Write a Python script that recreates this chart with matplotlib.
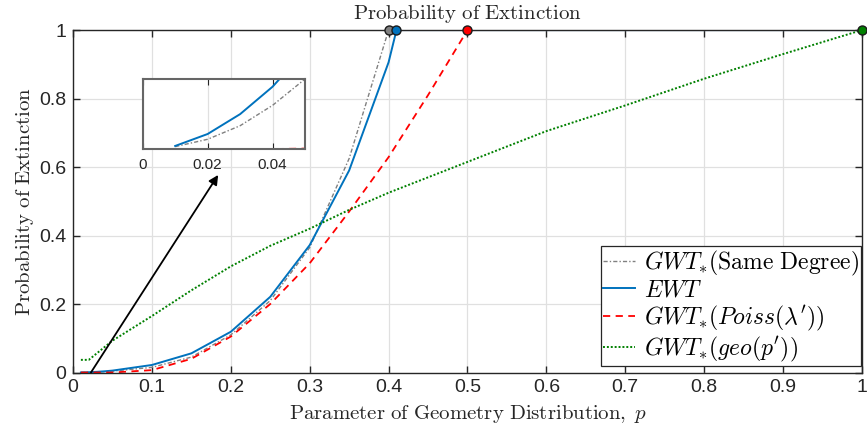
import matplotlib
matplotlib.use("Agg")
import matplotlib.pyplot as plt

plt.rcParams["mathtext.fontset"] = "cm"
plt.rcParams["font.family"] = ["Liberation Sans", "DejaVu Sans"]

# Parameter of the geometric distribution
p = [0.01, 0.02, 0.03, 0.04, 0.05, 0.10, 0.15, 0.20, 0.25, 0.30, 0.35, 0.40]

# GWT_*(Same Degree)
same_p = p + [1.0]
same_y = [0.00015, 0.00057, 0.00134, 0.0025, 0.0040, 0.015, 0.045, 0.110,
          0.210, 0.365, 0.625, 1.0, 1.0]

# EWT
ewt_p = p + [0.41, 1.0]
ewt_y = [0.00019, 0.00087, 0.0020, 0.00356, 0.0056, 0.022, 0.056, 0.119,
         0.221, 0.372, 0.590, 0.906, 1.0, 1.0]

# GWT_*(Poiss(lambda'))
poi_p = p + [0.45, 0.50, 1.0]
poi_y = [0.0, 0.000001, 0.000005, 0.000015, 0.00004, 0.007, 0.040, 0.105,
         0.200, 0.319, 0.470, 0.629, 0.810, 1.0, 1.0]

# GWT_*(geo(p'))
geo_p = [0.01, 0.02, 0.05, 0.10, 0.15, 0.20, 0.25, 0.30, 0.35, 0.40, 0.45,
         0.50, 0.60, 0.70, 0.80, 0.90, 1.0]
geo_y = [0.037, 0.037, 0.093, 0.165, 0.240, 0.310, 0.370, 0.420, 0.475,
         0.525, 0.570, 0.615, 0.705, 0.780, 0.858, 0.930, 1.0]

# Points where each curve first reaches extinction probability 1
end_same = (0.40, 1.0)
end_ewt = (0.41, 1.0)
end_poi = (0.50, 1.0)
end_geo = (1.0, 1.0)

# Arrow pointing from the origin region to the zoomed view
arrow_tail = (0.0227, 0.0)
arrow_head = (0.184, 0.577)

labels = [r"$GWT_{*}(\mathrm{Same\ Degree})$", r"$EWT$",
          r"$GWT_{*}(Poiss(\lambda^{\prime}))$", r"$GWT_{*}(geo(p^{\prime}))$"]

c_gray = (0.5, 0.5, 0.5)
c_blue = (0.0, 0.447, 0.741)
c_red = (1.0, 0.0, 0.0)
c_green = (0.0, 0.5, 0.0)
c_axis = (0.15, 0.15, 0.15)
c_grid = (0.88, 0.88, 0.88)

fig = plt.figure(figsize=(8.67, 4.36), dpi=100)
ax = fig.add_axes([0.0842, 0.1456, 0.910, 0.7854])


def draw_curves(a):
    a.plot(same_p, same_y, linestyle=(0, (3, 1.5, 1, 1.5)), color=c_gray,
           lw=1.0, label=labels[0])
    a.plot(ewt_p, ewt_y, linestyle="-", color=c_blue, lw=1.4,
           label=labels[1])
    a.plot(poi_p, poi_y, linestyle=(0, (4, 3)), color=c_red, lw=1.3,
           label=labels[2])
    a.plot(geo_p, geo_y, linestyle=(0, (1, 1)), color=c_green, lw=1.4,
           label=labels[3])


draw_curves(ax)
for pt, col in [(end_same, c_gray), (end_ewt, c_blue), (end_poi, c_red),
                (end_geo, c_green)]:
    ax.plot([pt[0]], [pt[1]], "o", ms=6.5, mfc=col, mec=(0.1, 0.1, 0.1),
            mew=1.0, clip_on=False, zorder=5)

ax.set_xlim(0, 1)
ax.set_ylim(0, 1)
ax.set_xticks([0, 0.1, 0.2, 0.3, 0.4, 0.5, 0.6, 0.7, 0.8, 0.9, 1])
ax.set_xticklabels(["0", "0.1", "0.2", "0.3", "0.4", "0.5", "0.6", "0.7",
                    "0.8", "0.9", "1"])
ax.set_yticks([0, 0.2, 0.4, 0.6, 0.8, 1])
ax.set_yticklabels(["0", "0.2", "0.4", "0.6", "0.8", "1"])
ax.grid(True, color=c_grid, lw=0.9)
ax.set_axisbelow(True)
ax.tick_params(direction="in", top=True, right=True, length=5, width=1.0,
               colors=c_axis, labelsize=14, pad=5)
for s in ax.spines.values():
    s.set_color(c_axis)
    s.set_linewidth(1.0)

ax.set_title(r"$\mathrm{Probability\ of\ Extinction}$", fontsize=15, pad=8,
             color=c_axis)
ax.set_xlabel(r"$\mathrm{Parameter\ of\ Geometry\ Distribution,}\;p$",
              fontsize=15, labelpad=5, color=c_axis)
ax.set_ylabel(r"$\mathrm{Probability\ of\ Extinction}$", fontsize=15,
              labelpad=2, color=c_axis)

leg = ax.legend(loc="lower right", bbox_to_anchor=(0.9985, 0.019),
                borderaxespad=0, fontsize=17, handlelength=1.35,
                handletextpad=0.35, labelspacing=0.08, borderpad=0.1,
                fancybox=False, framealpha=1, edgecolor=c_axis)
leg.get_frame().set_linewidth(0.9)

ax.annotate("", xy=arrow_head, xytext=arrow_tail,
            arrowprops=dict(arrowstyle="-|>", color="black", lw=1.3,
                            mutation_scale=14, shrinkA=0, shrinkB=0))

# Zoomed view near the origin
ins = fig.add_axes([0.1646, 0.6576, 0.1872, 0.1612])
draw_curves(ins)
ins.set_xlim(0, 0.05)
ins.set_ylim(0, 0.004)
ins.set_xticks([0, 0.02, 0.04])
ins.set_xticklabels(["0", "0.02", "0.04"])
ins.set_yticks([])
ins.grid(True, axis="x", color=c_grid, lw=0.9)
ins.set_axisbelow(True)
ins.tick_params(direction="in", top=True, length=4, colors=c_axis,
                labelsize=11, pad=6)
for s in ins.spines.values():
    s.set_color((0.4, 0.4, 0.4))
    s.set_linewidth(1.5)

fig.savefig("out.png", dpi=100)
